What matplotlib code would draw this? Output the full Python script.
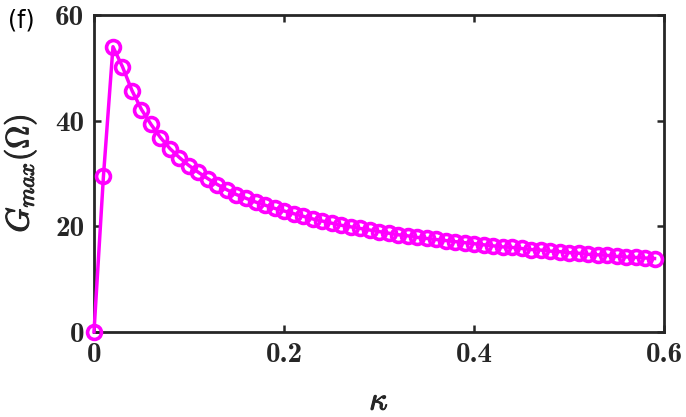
"""G_max versus kappa, panel (f)."""

from matplotlib import pyplot as plt
from matplotlib import patheffects as pe

plt.rcParams["mathtext.fontset"] = "cm"
plt.rcParams["axes.unicode_minus"] = False

KAPPA = [i / 100 for i in range(60)]
G_MAX = [0.0, 29.6, 54.0, 50.2, 45.7, 42.1, 39.3, 36.8, 34.7, 33.0,
         31.5, 30.2, 29.0, 27.9, 26.9, 26.0, 25.3, 24.6, 24.0, 23.4,
         22.9, 22.4, 21.9, 21.4, 21.0, 20.6, 20.2, 19.9, 19.6, 19.3,
         19.0, 18.7, 18.4, 18.2, 17.9, 17.7, 17.5, 17.3, 17.1, 16.9,
         16.7, 16.5, 16.3, 16.1, 16.0, 15.8, 15.6, 15.5, 15.3, 15.2,
         15.0, 14.9, 14.7, 14.6, 14.5, 14.3, 14.2, 14.1, 14.0, 13.9]

X_TICKS = [0, 0.2, 0.4, 0.6]
X_LABELS = ["0", "0.2", "0.4", "0.6"]
Y_TICKS = [0, 20, 40, 60]
Y_LABELS = ["0", "20", "40", "60"]

COLOR = "#ff00ff"
AXIS_COLOR = "#262626"
BOLD = [pe.withStroke(linewidth=0.8, foreground=AXIS_COLOR)]

fig = plt.figure(figsize=(6.86, 4.17), dpi=100)
ax = fig.add_axes([0.137, 0.204, 0.831, 0.760])

ax.plot(KAPPA, G_MAX, color=COLOR, lw=2.5, marker="o", ms=10,
        mfc="none", mec=COLOR, mew=2.6, clip_on=False, zorder=3)

ax.set_xlim(0, 0.6)
ax.set_ylim(0, 60)
ax.set_xticks(X_TICKS)
ax.set_xticklabels(X_LABELS, family="cmb10", fontsize=21)
ax.set_yticks(Y_TICKS)
ax.set_yticklabels(Y_LABELS, family="cmb10", fontsize=21)
ax.tick_params(direction="in", length=5, width=1.8, colors=AXIS_COLOR,
               top=True, right=True, pad=7)
for sp in ax.spines.values():
    sp.set_linewidth(2)
    sp.set_color(AXIS_COLOR)

# reference crops the kappa at the bottom edge; keep it just inside
xl = ax.set_xlabel(r"$\kappa$", fontsize=23, color=AXIS_COLOR, labelpad=13)
yl = ax.set_ylabel(r"$G_{max}(\Omega)$", fontsize=23, color=AXIS_COLOR,
                   labelpad=12)
xl.set_path_effects(BOLD)
yl.set_path_effects(BOLD)
fig.text(0.011, 0.95, "(f)", fontsize=17, family="DejaVu Sans",
         va="center", ha="left")

fig.savefig("out.png", dpi=100)
